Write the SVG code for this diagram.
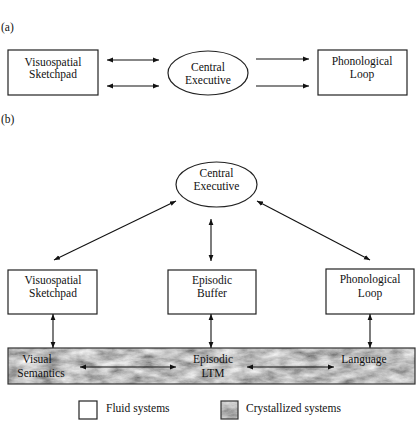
<svg xmlns="http://www.w3.org/2000/svg" width="418" height="422" viewBox="0 0 418 422">
<style>
text{font-family:"Liberation Serif","Times New Roman",serif;font-size:11.5px;fill:#111;text-anchor:middle}
.lbl{text-anchor:start}
.box{fill:#fff;stroke:#222;stroke-width:1.2}
.ln{stroke:#111;stroke-width:1.1;fill:none}
.a1{marker-end:url(#ah)}
.a2{marker-end:url(#ah);marker-start:url(#ah)}
</style>
<defs>
<marker id="ah" viewBox="0 0 10 10" refX="10" refY="5" markerWidth="6" markerHeight="6" markerUnits="userSpaceOnUse" orient="auto-start-reverse">
<path d="M0,1 L10,5 L0,9 z" fill="#111"/>
</marker>
<filter id="grain" x="0" y="0" width="1" height="1" filterUnits="objectBoundingBox">
<feTurbulence type="fractalNoise" baseFrequency="0.05 0.12" numOctaves="5" seed="11" result="n"/>
<feColorMatrix in="n" type="matrix" values="1.0 0 0 0 0.02  1.0 0 0 0 0.02  1.0 0 0 0 0.02  0 0 0 0 1" result="g"/>
<feComposite in="g" in2="SourceGraphic" operator="in"/>
</filter>
</defs>

<text class="lbl" x="1" y="31">(a)</text>
<text class="lbl" x="1" y="123">(b)</text>

<g id="a-visuospatial">
<rect class="box" x="8" y="50" width="90" height="45"/>
<text x="53" y="66">Visuospatial</text>
<text x="53" y="78">Sketchpad</text>
</g>
<g id="a-central">
<ellipse class="box" cx="208" cy="73" rx="40" ry="22"/>
<text x="208" y="71">Central</text>
<text x="208" y="84">Executive</text>
</g>
<g id="a-phonological">
<rect class="box" x="318" y="50" width="89" height="45"/>
<text x="362" y="65">Phonological</text>
<text x="362" y="78">Loop</text>
</g>

<g id="b-central">
<ellipse class="box" cx="216.5" cy="184.5" rx="40.5" ry="22.5"/>
<text x="216.5" y="177">Central</text>
<text x="216.5" y="190">Executive</text>
</g>
<g id="b-visuospatial">
<rect class="box" x="8" y="270" width="89" height="44"/>
<text x="53" y="284">Visuospatial</text>
<text x="53" y="297">Sketchpad</text>
</g>
<g id="b-episodic-buffer">
<rect class="box" x="168" y="270" width="88" height="44"/>
<text x="212" y="284">Episodic</text>
<text x="212" y="297">Buffer</text>
</g>
<g id="b-phonological">
<rect class="box" x="326" y="269" width="88" height="45"/>
<text x="370" y="283">Phonological</text>
<text x="370" y="297">Loop</text>
</g>

<g id="b-crystallized-band">
<rect x="8" y="348" width="407" height="36" fill="#888" filter="url(#grain)"/>
<rect x="8" y="348" width="407" height="36" fill="none" stroke="#333" stroke-width="1.2"/>
<text x="37" y="363">Visual</text>
<text x="41" y="377">Semantics</text>
<text x="213" y="363">Episodic</text>
<text x="213" y="377">LTM</text>
<text x="364" y="363">Language</text>
</g>

<g id="connectors">
<line class="ln a2" x1="107" y1="60" x2="159" y2="60"/>
<line class="ln a2" x1="107" y1="86" x2="159" y2="86"/>
<line class="ln a1" x1="256" y1="59" x2="309" y2="59"/>
<line class="ln a1" x1="256" y1="86" x2="309" y2="86"/>
<line class="ln a2" x1="176" y1="201" x2="54" y2="260"/>
<line class="ln a2" x1="211" y1="219" x2="211" y2="261"/>
<line class="ln a2" x1="257" y1="201" x2="370" y2="260"/>
<line class="ln a2" x1="53" y1="314" x2="53" y2="348"/>
<line class="ln a2" x1="211" y1="314" x2="211" y2="348"/>
<line class="ln a2" x1="370" y1="314" x2="370" y2="348"/>
<line class="ln a2" x1="80" y1="367" x2="176" y2="367"/>
<line class="ln a2" x1="247" y1="367" x2="334" y2="367"/>
</g>

<g id="legend-fluid">
<rect class="box" x="79" y="401" width="18" height="18"/>
<text class="lbl" x="106" y="412">Fluid systems</text>
</g>
<g id="legend-crystallized">
<rect x="221" y="401" width="17" height="18" fill="#888" filter="url(#grain)"/>
<rect x="221" y="401" width="17" height="18" fill="none" stroke="#333" stroke-width="1.2"/>
<text class="lbl" x="246" y="412">Crystallized systems</text>
</g>
</svg>
